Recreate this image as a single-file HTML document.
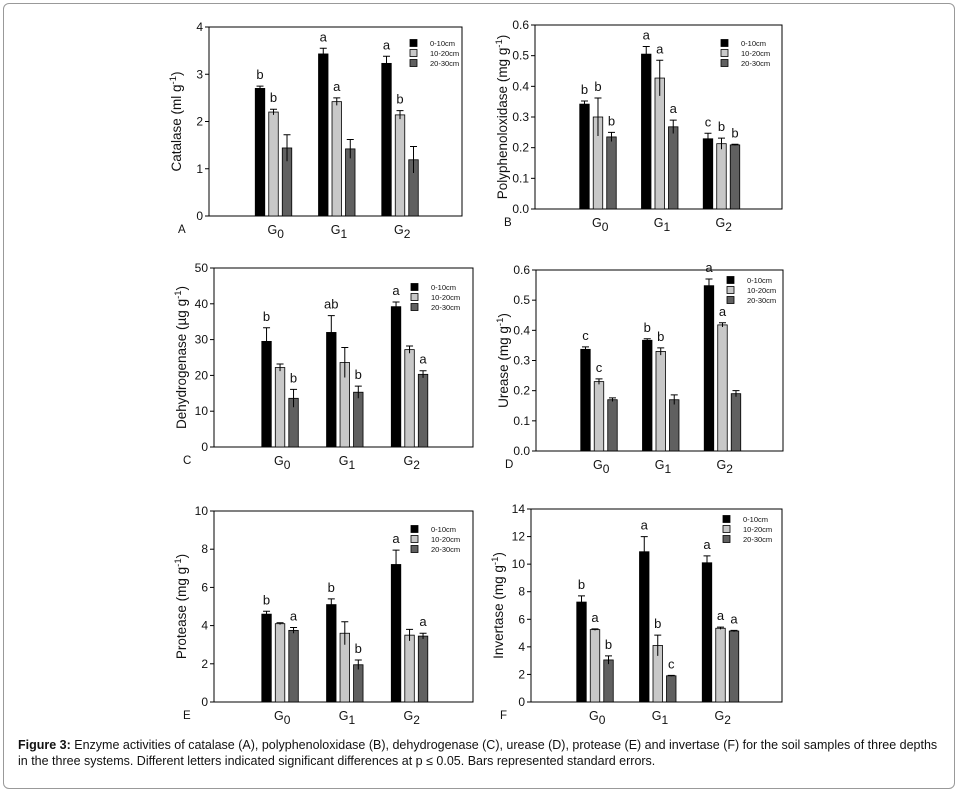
<!DOCTYPE html>
<html><head><meta charset="utf-8">
<style>
body{margin:0;background:#fff;width:961px;height:794px;overflow:hidden;font-family:"Liberation Sans",Arial,sans-serif}
#frame{position:absolute;left:3px;top:3px;width:952px;height:786px;border:1px solid #999;border-radius:6px;box-sizing:border-box}
#caption{position:absolute;left:18px;top:737px;width:926px;font-size:12.5px;line-height:16px;color:#111}
</style></head>
<body>
<div id="frame"></div>
<svg id="chart" width="961" height="794" style="position:absolute;left:0;top:0"></svg>
<div id="caption"><b>Figure 3:</b> Enzyme activities of catalase (A), polyphenoloxidase (B), dehydrogenase (C), urease (D), protease (E) and invertase (F) for the soil samples of three depths in the three systems. Different letters indicated significant differences at p ≤ 0.05. Bars represented standard errors.</div>
<script>
const categories=["G0","G1","G2"];
const series=["0-10cm","10-20cm","20-30cm"];
// A catalase
const aVals0=[2.7,3.43,3.23], aErr0=[0.05,0.12,0.15], aLet0=["b","a","a"];
const aVals1=[2.2,2.42,2.14], aErr1=[0.06,0.08,0.09], aLet1=["b","a","b"];
const aVals2=[1.44,1.42,1.19], aErr2=[0.28,0.2,0.28], aLet2=["","",""];
const aTicks=["0","1","2","3","4"];
// B polyphenoloxidase
const bVals0=[0.342,0.505,0.229], bErr0=[0.01,0.025,0.018], bLet0=["b","a","c"];
const bVals1=[0.30,0.427,0.213], bErr1=[0.062,0.058,0.018], bLet1=["b","a","b"];
const bVals2=[0.235,0.268,0.209], bErr2=[0.015,0.022,0.002], bLet2=["b","a","b"];
const bTicks=["0.0","0.1","0.2","0.3","0.4","0.5","0.6"];
// C dehydrogenase
const cVals0=[29.5,32,39.2], cErr0=[3.8,4.7,1.3], cLet0=["b","ab","a"];
const cVals1=[22.2,23.6,27.2], cErr1=[1,4.2,1], cLet1=["","",""];
const cVals2=[13.6,15.3,20.3], cErr2=[2.5,1.7,1], cLet2=["b","b","a"];
const cTicks=["0","10","20","30","40","50"];
// D urease
const dVals0=[0.337,0.367,0.548], dErr0=[0.008,0.005,0.022], dLet0=["c","b","a"];
const dVals1=[0.23,0.33,0.418], dErr1=[0.009,0.012,0.007], dLet1=["c","b","a"];
const dVals2=[0.17,0.17,0.19], dErr2=[0.006,0.016,0.01], dLet2=["","",""];
const dTicks=["0.0","0.1","0.2","0.3","0.4","0.5","0.6"];
// E protease
const eVals0=[4.6,5.1,7.2], eErr0=[0.15,0.3,0.75], eLet0=["b","b","a"];
const eVals1=[4.1,3.6,3.5], eErr1=[0.05,0.6,0.3], eLet1=["","",""];
const eVals2=[3.75,1.95,3.45], eErr2=[0.15,0.25,0.15], eLet2=["a","b","a"];
const eTicks=["0","2","4","6","8","10"];
// F invertase
const fVals0=[7.25,10.9,10.1], fErr0=[0.45,1.1,0.5], fLet0=["b","a","a"];
const fVals1=[5.25,4.1,5.35], fErr1=[0.05,0.75,0.08], fLet1=["a","b","a"];
const fVals2=[3.05,1.9,5.15], fErr2=[0.3,0.03,0.05], fLet2=["b","c","a"];
const fTicks=["0","2","4","6","8","10","12","14"];

const svg=document.getElementById('chart');
const NS="http://www.w3.org/2000/svg";
function mk(tag,attrs,parent){const e=document.createElementNS(NS,tag);for(const k in attrs)e.setAttribute(k,attrs[k]);(parent||svg).appendChild(e);return e;}
const fills=["#000","#c8c8c8","#606060"];

function panel(id,letter,title,geo,ticks,vals,errs,lets,leg){
  const g=mk('g',{});
  
  
  const {l,t,b,r}=geo;
  const max=parseFloat(ticks[ticks.length-1]);
  const y=v=>b-(v/max)*(b-t);
  const x=i=>l+(0.255+0.25*i)*(r-l);
  const frame=mk('rect',{x:l,y:t,width:r-l,height:b-t,fill:'none',stroke:'#000','stroke-width':1},g);
  
  
  ticks.forEach(tk=>{
    const v=parseFloat(tk);const yy=y(v);
    mk('line',{x1:l-4,x2:l,y1:yy,y2:yy,stroke:'#000'},g);
    const tx=mk('text',{x:l-6,y:yy+4,'text-anchor':'end','font-size':12,fill:'#111'},g);
    tx.textContent=tk;
    
    
  });
  const yt=mk('text',{x:0,y:0,transform:`translate(${l-28},${(t+b)/2}) rotate(-90)`,'text-anchor':'middle','font-size':13.5,fill:'#111'},g);
  yt.innerHTML=title+' g<tspan dy="-5" font-size="9.5">-1</tspan><tspan dy="5">)</tspan>';
  
  
  const pl=mk('text',{x:l-31,y:b+17,'font-size':11.5,fill:'#111'},g);
  pl.textContent=letter;
  
  
  categories.forEach((c,i)=>{
    const ct=mk('text',{x:x(i)-6,y:b+18,'font-size':12.5,fill:'#111'},g);
    ct.innerHTML='G<tspan dy="4" font-size="12">'+c.slice(1)+'</tspan>';
    
    
  });
  const w=9.5, step=13.5;
  for(let s=0;s<3;s++){
    categories.forEach((c,i)=>{
      const cx=x(i)+(s-1)*step;
      const v=vals[s][i], e=errs[s][i];
      const rc=mk('rect',{x:cx-w/2,y:y(v),width:w,height:b-y(v),fill:fills[s],stroke:'#000','stroke-width':0.8},g);
      
      
      const eb=mk('path',{d:`M${cx},${y(v-e)}V${y(v+e)}M${cx-3.5},${y(v+e)}H${cx+3.5}`,stroke:'#000','stroke-width':1,fill:'none'},g);
      
      
      if(lets[s][i]){
        const lt=mk('text',{x:cx,y:y(v+e)-7,'text-anchor':'middle','font-size':13,fill:'#111'},g);
        lt.textContent=lets[s][i];
        
        
      }
    });
  }
  series.forEach((sn,s)=>{
    const ly=leg.y+s*10;
    const sq=mk('rect',{x:leg.x,y:ly-3.5,width:7,height:7,fill:fills[s],stroke:'#000','stroke-width':0.8},g);
    
    
    const lt=mk('text',{x:leg.x+20,y:ly+3,'font-size':7.5,fill:'#111'},g);
    lt.textContent=sn;
    
    
  });
}
panel('a','A','Catalase (ml',{l:209,t:27,b:216,r:462},aTicks,[aVals0,aVals1,aVals2],[aErr0,aErr1,aErr2],[aLet0,aLet1,aLet2],{x:410,y:43});
panel('b','B','Polyphenoloxidase (mg',{l:535,t:25,b:209,r:782},bTicks,[bVals0,bVals1,bVals2],[bErr0,bErr1,bErr2],[bLet0,bLet1,bLet2],{x:721,y:43});
panel('c','C','Dehydrogenase (µg',{l:214,t:268,b:447,r:473},cTicks,[cVals0,cVals1,cVals2],[cErr0,cErr1,cErr2],[cLet0,cLet1,cLet2],{x:411,y:287});
panel('d','D','Urease (mg',{l:536,t:270,b:451,r:783},dTicks,[dVals0,dVals1,dVals2],[dErr0,dErr1,dErr2],[dLet0,dLet1,dLet2],{x:727,y:280});
panel('e','E','Protease (mg',{l:214,t:511,b:702,r:473},eTicks,[eVals0,eVals1,eVals2],[eErr0,eErr1,eErr2],[eLet0,eLet1,eLet2],{x:411,y:529});
panel('f','F','Invertase (mg',{l:531,t:509,b:702,r:782},fTicks,[fVals0,fVals1,fVals2],[fErr0,fErr1,fErr2],[fLet0,fLet1,fLet2],{x:723,y:519});
</script>
</body></html>
